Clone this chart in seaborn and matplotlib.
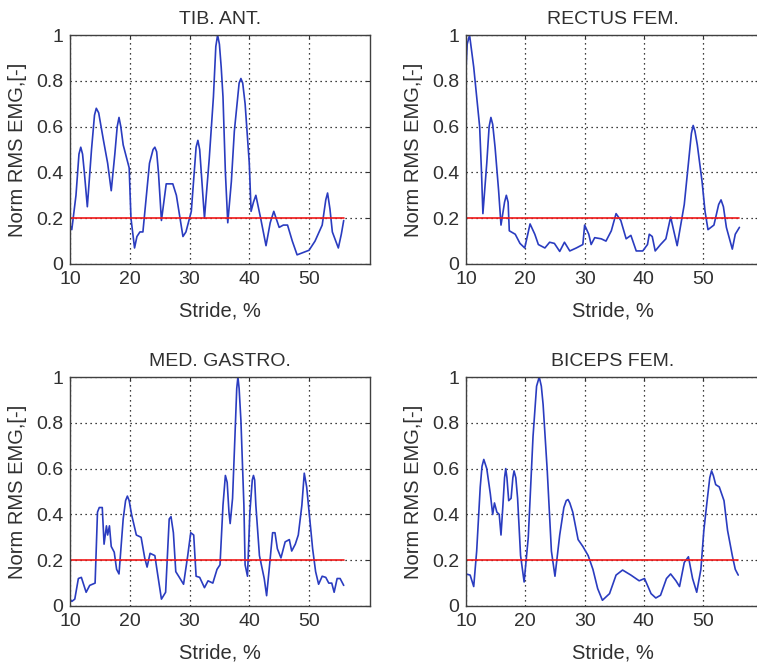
import numpy as np
import pandas as pd
import matplotlib
matplotlib.use("Agg")
import matplotlib.pyplot as plt
import seaborn as sns

# EMG envelopes (stride %, normalised RMS)
tib_x = [10.0, 10.3, 11.0, 11.5, 11.8, 12.1, 12.4, 12.9, 13.6, 14.1, 14.4, 14.8, 15.6, 16.3,
         16.9, 17.5, 17.9, 18.2, 18.5, 18.9, 19.9, 20.2, 20.8, 21.2, 21.7, 22.2, 23.3, 23.9,
         24.2, 24.5, 24.8, 25.3, 26.1, 27.2, 27.8, 28.9, 29.4, 30.3, 31.1, 31.4, 31.7, 32.5,
         33.3, 34.0, 34.4, 34.7, 35.0, 35.3, 35.6, 36.0, 36.4, 37.0, 37.5, 38.3, 38.6, 38.9,
         39.3, 40.0, 40.3, 40.7, 41.1, 41.9, 42.8, 43.5, 44.1, 45.0, 45.7, 46.4, 47.2, 48.0,
         49.0, 50.0, 51.0, 52.2, 52.8, 53.1, 53.5, 53.9, 54.9, 55.4, 55.8]
tib_y = [0.17, 0.15, 0.30, 0.48, 0.51, 0.48, 0.40, 0.25, 0.50, 0.65, 0.68, 0.66, 0.54, 0.44,
         0.32, 0.48, 0.60, 0.64, 0.60, 0.52, 0.42, 0.20, 0.07, 0.12, 0.14, 0.14, 0.44, 0.50,
         0.51, 0.49, 0.40, 0.19, 0.35, 0.35, 0.30, 0.12, 0.14, 0.23, 0.51, 0.54, 0.50, 0.20,
         0.46, 0.73, 0.95, 1.00, 0.96, 0.86, 0.73, 0.40, 0.18, 0.36, 0.58, 0.79, 0.81, 0.79,
         0.70, 0.44, 0.23, 0.27, 0.30, 0.20, 0.08, 0.18, 0.23, 0.16, 0.17, 0.17, 0.10, 0.04,
         0.05, 0.06, 0.10, 0.17, 0.28, 0.31, 0.24, 0.14, 0.07, 0.13, 0.19]

rec_x = [10.0, 10.2, 10.6, 11.3, 11.8, 12.3, 12.6, 12.85, 13.5, 13.9, 14.2, 14.5, 14.9, 15.5,
         15.9, 16.5, 16.8, 17.1, 17.3, 18.3, 19.1, 19.9, 20.8, 21.6, 22.2, 23.3, 24.1, 24.9,
         25.8, 26.6, 27.5, 28.6, 29.7, 30.0, 30.7, 31.1, 31.7, 32.8, 33.6, 34.5, 35.3, 36.1,
         37.0, 37.8, 38.7, 39.8, 40.6, 40.9, 41.4, 41.9, 42.8, 43.7, 44.5, 45.6, 46.8, 47.5,
         48.0, 48.3, 48.6, 49.0, 49.8, 50.3, 50.8, 51.8, 52.6, 53.0, 53.4, 53.9, 54.9, 55.4, 56.1]
rec_y = [0.85, 0.96, 1.00, 0.86, 0.73, 0.60, 0.41, 0.22, 0.44, 0.60, 0.64, 0.61, 0.51, 0.32,
         0.17, 0.27, 0.30, 0.27, 0.145, 0.13, 0.09, 0.07, 0.175, 0.13, 0.085, 0.07, 0.095,
         0.09, 0.055, 0.095, 0.057, 0.07, 0.085, 0.17, 0.13, 0.085, 0.115, 0.11, 0.10, 0.145,
         0.22, 0.19, 0.11, 0.125, 0.057, 0.057, 0.085, 0.13, 0.12, 0.057, 0.085, 0.11, 0.205,
         0.08, 0.26, 0.44, 0.57, 0.605, 0.58, 0.52, 0.36, 0.23, 0.15, 0.17, 0.26, 0.28, 0.25,
         0.16, 0.065, 0.13, 0.16]

gas_x = [10.0, 10.3, 10.8, 11.4, 11.9, 12.7, 13.3, 14.2, 14.6, 14.9, 15.4, 15.7, 16.1, 16.3,
         16.6, 16.9, 17.4, 17.8, 18.2, 18.9, 19.3, 19.6, 19.9, 20.3, 21.1, 21.9, 22.5, 22.9,
         23.4, 24.2, 24.6, 25.3, 26.0, 26.6, 26.9, 27.3, 27.7, 28.3, 29.0, 29.7, 30.2, 30.7,
         31.1, 31.7, 32.5, 33.1, 33.9, 34.6, 35.1, 35.6, 36.0, 36.3, 36.6, 36.8, 37.2, 37.6,
         37.9, 38.1, 38.3, 38.6, 39.1, 39.3, 39.7, 40.1, 40.5, 40.7, 40.9, 41.1, 41.7, 42.5,
         42.9, 43.4, 43.9, 44.3, 44.7, 45.3, 46.0, 46.7, 47.1, 47.7, 48.2, 48.8, 49.2, 49.6,
         49.9, 50.6, 51.1, 51.6, 52.2, 52.8, 53.3, 53.8, 54.2, 54.7, 55.2, 55.8]
gas_y = [0.03, 0.02, 0.03, 0.12, 0.125, 0.06, 0.09, 0.10, 0.41, 0.43, 0.43, 0.27, 0.35, 0.31,
         0.35, 0.26, 0.235, 0.16, 0.14, 0.38, 0.46, 0.48, 0.46, 0.40, 0.31, 0.30, 0.21, 0.17,
         0.23, 0.22, 0.15, 0.03, 0.06, 0.38, 0.39, 0.32, 0.15, 0.125, 0.095, 0.22, 0.32, 0.31,
         0.13, 0.125, 0.08, 0.11, 0.10, 0.16, 0.18, 0.44, 0.57, 0.54, 0.41, 0.36, 0.47, 0.74,
         0.95, 1.00, 0.95, 0.81, 0.44, 0.18, 0.13, 0.41, 0.55, 0.57, 0.55, 0.44, 0.22, 0.12,
         0.045, 0.18, 0.32, 0.32, 0.25, 0.21, 0.28, 0.29, 0.24, 0.27, 0.31, 0.44, 0.58, 0.52,
         0.44, 0.25, 0.15, 0.095, 0.13, 0.125, 0.10, 0.10, 0.06, 0.12, 0.12, 0.09]

bic_x = [10.0, 10.7, 11.3, 11.8, 12.4, 12.7, 13.0, 13.5, 14.1, 14.5, 14.8, 15.2, 15.6, 15.9,
         16.2, 16.5, 16.7, 16.9, 17.2, 17.6, 17.9, 18.1, 18.4, 18.7, 19.2, 19.8, 20.5, 21.3,
         21.9, 22.35, 22.7, 23.0, 23.7, 24.4, 25.0, 25.8, 26.5, 26.9, 27.2, 27.5, 28.0, 28.9,
         29.7, 30.6, 31.4, 32.2, 33.0, 34.2, 35.3, 36.4, 37.8, 39.2, 40.1, 41.2, 42.0, 42.8,
         43.8, 44.5, 45.4, 46.0, 46.8, 47.5, 48.2, 48.9, 49.6, 50.1, 50.7, 51.1, 51.4, 51.7,
         52.1, 52.7, 53.5, 54.1, 54.9, 55.4, 55.9]
bic_y = [0.14, 0.135, 0.085, 0.24, 0.52, 0.61, 0.64, 0.60, 0.49, 0.40, 0.45, 0.41, 0.40, 0.31,
         0.43, 0.56, 0.60, 0.56, 0.46, 0.47, 0.56, 0.59, 0.56, 0.47, 0.22, 0.105, 0.30, 0.74,
         0.96, 1.00, 0.96, 0.88, 0.59, 0.24, 0.13, 0.31, 0.43, 0.46, 0.465, 0.45, 0.41, 0.29,
         0.26, 0.22, 0.16, 0.076, 0.025, 0.054, 0.135, 0.157, 0.135, 0.11, 0.12, 0.054, 0.035,
         0.047, 0.12, 0.14, 0.11, 0.085, 0.19, 0.215, 0.12, 0.06, 0.16, 0.33, 0.47, 0.56, 0.59,
         0.57, 0.53, 0.52, 0.46, 0.33, 0.22, 0.16, 0.135]

titles = ["TIB. ANT.", "RECTUS FEM.", "MED. GASTRO.", "BICEPS FEM."]
threshold = 0.2
x_ticks = [10, 20, 30, 40, 50]
y_ticks = [0, 0.2, 0.4, 0.6, 0.8, 1]
y_tick_labels = ["0", "0.2", "0.4", "0.6", "0.8", "1"]

series = [(tib_x, tib_y), (rec_x, rec_y), (gas_x, gas_y), (bic_x, bic_y)]

sns.set_style("white")
plt.rcParams["font.family"] = ["Liberation Sans", "DejaVu Sans"]
txt = "#303030"

fig = plt.figure(figsize=(7.57, 6.66), dpi=100)
W, H = 757, 666
# axes boxes in pixels: left, top, width, upper x limit (right column is cut by the edge)
boxes = [(70, 35, 300, 60.2), (466, 35, 293, 59.4), (70, 377, 300, 60.2), (466, 377, 293, 59.4)]
for (xs, ys), title, (lft, top, wid, xmax) in zip(series, titles, boxes):
    ax = fig.add_axes([lft / W, 1 - (top + 229) / H, wid / W, 229 / H])
    df = pd.DataFrame({"stride": xs, "emg": ys})
    sns.lineplot(data=df, x="stride", y="emg", ax=ax, color="#2a3cc0",
                 linewidth=1.2, estimator=None, sort=False)
    ax.plot([xs[0], xs[-1]], [threshold, threshold], color="#f01818", linewidth=1.2)
    ax.set_xlim(10, xmax)
    ax.set_ylim(0, 1)
    ax.set_xticks(x_ticks)
    ax.set_yticks(y_ticks)
    ax.set_yticklabels(y_tick_labels)
    ax.grid(True, color="black", linestyle=(0, (1, 3)), linewidth=0.9)
    ax.tick_params(direction="in", length=3, width=0.8, labelsize=14, colors=txt,
                   top=True, right=True, pad=5, labelcolor=txt)
    for sp in ax.spines.values():
        sp.set_color("#404040")
        sp.set_linewidth(1.0)
    ax.set_title(title, fontsize=14, color=txt, pad=8)
    ax.set_xlabel("Stride, %", fontsize=14.5, color=txt, labelpad=10)
    ax.set_ylabel("Norm RMS EMG,[-]", fontsize=14.5, color=txt, labelpad=6)

fig.savefig("out.png", dpi=100)
